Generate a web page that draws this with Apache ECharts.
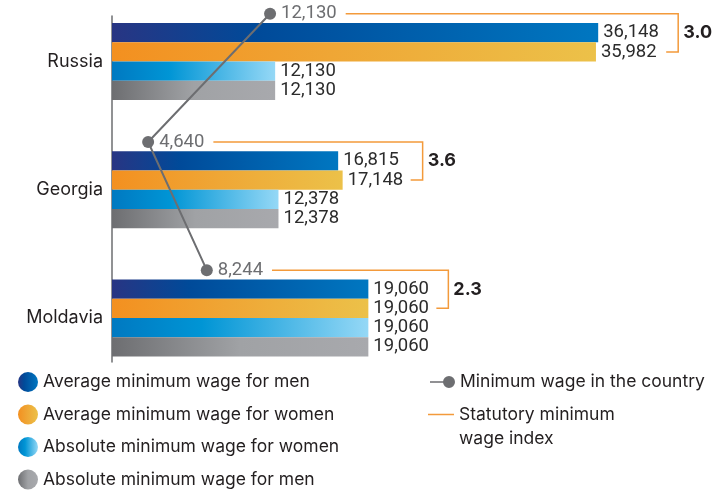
<!DOCTYPE html>
<html>
<head>
<meta charset="utf-8">
<script src="https://cdn.jsdelivr.net/npm/echarts@6/dist/echarts.min.js"></script>
<style>
  html, body { margin: 0; padding: 0; background: #ffffff; }
  #chart { width: 713px; height: 492px; }
</style>
</head>
<body>
<div id="chart"></div>
<script>
// Countries and wage figures
const countries = ['Russia', 'Georgia', 'Moldavia'];
const avgMen = [36148, 16815, 19060];
const avgWomen = [35982, 17148, 19060];
const absWomen = [12130, 12378, 19060];
const absMen = [12130, 12378, 19060];
const countryMinWage = [12130, 4640, 8244];
const wageIndex = [3.0, 3.6, 2.3];

const FONT = 'Inter, "Noto Sans", sans-serif';
const NUM_FONT = 'Roboto, Inter, sans-serif';
const NUM_SIZE = 18.5;
const BAR_W = 19.25;
const ORANGE = '#f39a3b';
const GREY = '#6d6e71';
const INK = '#231f20';

const fmt = v => Number(v).toLocaleString('en-US');

function grad(stops) {
  return new echarts.graphic.LinearGradient(0, 0, 1, 0,
    stops.map(([offset, color]) => ({ offset, color })));
}

const measureCtx = document.createElement('canvas').getContext('2d');
function textWidth(str) {
  measureCtx.font = NUM_SIZE + 'px ' + NUM_FONT;
  return measureCtx.measureText(str).width;
}

const chart = echarts.init(document.getElementById('chart'), null, { renderer: 'canvas' });

const barLabel = {
  show: true,
  position: 'right',
  distance: 5,
  fontSize: NUM_SIZE,
  fontFamily: NUM_FONT,
  color: '#2b2b2b',
  formatter: p => fmt(p.value)
};

function barSeries(name, data, color) {
  return {
    name, type: 'bar', xAxisIndex: 0, yAxisIndex: 0,
    data, barWidth: BAR_W, barGap: '0%',
    itemStyle: { color },
    label: barLabel,
    z: 2
  };
}

const legendText = { fontSize: 17.5, color: INK, fontFamily: FONT };

const option = {
  backgroundColor: '#ffffff',
  animation: false,
  textStyle: { fontFamily: FONT },
  grid: [
    { left: 112, top: -2.6, width: 538, height: 384.6, outerBoundsMode: 'none', containLabel: false },
    { left: 112, top: -50.3, width: 538, height: 384.6, outerBoundsMode: 'none', containLabel: false },
    { left: 112, top: 16, width: 1, height: 346, outerBoundsMode: 'none', containLabel: false }
  ],
  xAxis: [
    { gridIndex: 0, type: 'value', min: 0, max: 40000, show: false },
    { gridIndex: 1, type: 'value', min: 2420, max: 35470, show: false },
    { gridIndex: 2, type: 'value', show: false }
  ],
  yAxis: [
    {
      gridIndex: 0, type: 'category', data: countries, inverse: true,
      axisLine: { show: false }, axisTick: { show: false },
      axisLabel: { fontSize: 18, color: INK, margin: 9, fontFamily: FONT }
    },
    { gridIndex: 1, type: 'category', data: countries, inverse: true, show: false },
    {
      gridIndex: 2, type: 'category', data: countries,
      axisLine: { show: true, lineStyle: { color: GREY, width: 1.5 } },
      axisTick: { show: false }, axisLabel: { show: false }, splitLine: { show: false }
    }
  ],
  legend: [
    {
      left: 13, top: 367, height: 200, orient: 'vertical',
      itemWidth: 20, itemHeight: 20, itemGap: 12.5,
      icon: 'circle', selectedMode: false,
      textStyle: legendText,
      data: ['Average minimum wage for men', 'Average minimum wage for women',
             'Absolute minimum wage for women', 'Absolute minimum wage for men']
    },
    {
      left: 425, top: 368, orient: 'vertical',
      itemWidth: 25, itemHeight: 12, selectedMode: false,
      textStyle: legendText,
      data: [{
        name: 'Minimum wage in the country',
        icon: 'path://M0,5.25H14V6.75H0Z M13,6A6,6 0 1 1 25,6A6,6 0 1 1 13,6Z'
      }]
    },
    {
      left: 423, top: 373.5, orient: 'vertical',
      itemWidth: 26, itemHeight: 1.5, selectedMode: false,
      formatter: () => ' \nStatutory minimum\nwage index',
      textStyle: Object.assign({ lineHeight: 24 }, legendText),
      data: [{ name: 'Statutory minimum wage index', icon: 'path://M0,0H26V1.5H0Z' }]
    }
  ],
  series: [
    barSeries('Average minimum wage for men', avgMen,
      grad([[0, '#283583'], [0.3, '#004a99'], [1, '#0077c1']])),
    barSeries('Average minimum wage for women', avgWomen,
      grad([[0, '#f39020'], [0.45, '#efa635'], [1, '#ecc149']])),
    barSeries('Absolute minimum wage for women', absWomen,
      grad([[0, '#0079c1'], [0.35, '#0095d5'], [1, '#95d8f6']])),
    barSeries('Absolute minimum wage for men', absMen,
      grad([[0, '#6d6e71'], [0.5, '#a0a2a5'], [1, '#a8a9ad']])),
    {
      name: 'Minimum wage in the country',
      type: 'line', xAxisIndex: 1, yAxisIndex: 1,
      data: countryMinWage,
      symbol: 'circle', symbolSize: 12,
      lineStyle: { color: GREY, width: 2 },
      itemStyle: { color: GREY },
      label: {
        show: true, position: 'right', distance: 5,
        fontSize: NUM_SIZE, fontFamily: NUM_FONT, color: GREY,
        formatter: p => fmt(p.value)
      },
      z: 5
    },
    {
      name: 'Statutory minimum wage index',
      type: 'custom', xAxisIndex: 0, yAxisIndex: 0,
      itemStyle: { color: ORANGE },
      data: countries.map((c, i) => [i, Math.max(avgMen[i], avgWomen[i]), countryMinWage[i], wageIndex[i]]),
      renderItem: (params, api) => {
        const i = api.value(0);
        const center = api.coord([0, i]);
        const rightX = api.coord([api.value(1), i])[0] + 80;
        const pt = chart.convertToPixel({ xAxisIndex: 1, yAxisIndex: 1 }, [api.value(2), i]);
        const topY = pt[1];
        const bottomY = center[1] - 0.5 * BAR_W;
        const startX = pt[0] + 11 + textWidth(fmt(api.value(2))) + 9;
        return {
          type: 'group',
          children: [
            {
              type: 'polyline',
              shape: { points: [[startX, topY], [rightX, topY], [rightX, bottomY], [rightX - 12, bottomY]] },
              style: { stroke: ORANGE, lineWidth: 1.5, fill: null }
            },
            {
              type: 'text',
              x: rightX + 5, y: (topY + bottomY) / 2,
              style: {
                text: Number(api.value(3)).toFixed(1),
                fontSize: 18, fontWeight: 'bold', fontFamily: FONT,
                fill: INK, verticalAlign: 'middle', align: 'left'
              }
            }
          ]
        };
      },
      z: 3
    }
  ]
};

chart.setOption(option);
</script>
</body>
</html>
